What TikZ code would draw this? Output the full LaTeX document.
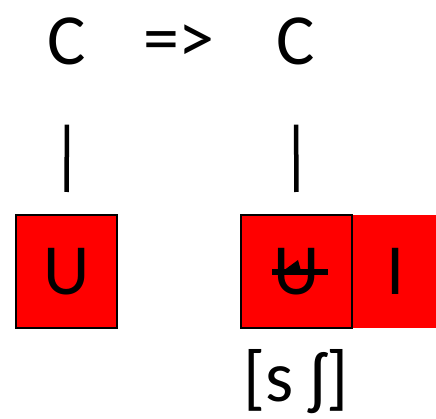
\documentclass[tikz,border=0pt]{standalone}
\usepackage{fontspec}
\setmainfont{Carlito}
\usetikzlibrary{arrows.meta, positioning}

\tikzset{
  big/.style={font=\fontsize{72}{80}\selectfont, inner sep=0pt},
  seg/.style={big, fill=red, minimum height=113pt},
  bar/.style={line width=4.5pt},
}

\begin{document}
\begin{tikzpicture}[x=1pt, y=-1pt]
        \useasboundingbox (0,0) rectangle (436,419);
        % top row
        \node[big, anchor=base] (c1) at (67,65) {C};
        \node[big, anchor=base] (rule) at (179,63) {=>};
        \node[big, anchor=base] (c2) at (296,65) {C};
        % segments
        \node[seg, draw, line width=2pt, minimum width=101pt] (u1) at (66.5,271.5) {U};
        \node[seg, draw, line width=2pt, minimum width=111pt] (u2) at (296.5,271.5) {U};
        \node[seg, minimum width=84pt, anchor=west] (i2) at (u2.east) {I};
        % association lines
        \draw[bar, shorten <=59pt, shorten >=22pt] (c1) -- (u1);
        \draw[bar, shorten <=59pt, shorten >=22pt] (c2) -- (u2);
        % delinking arrow over the vowel
        \draw[line width=5.5pt] (328,272) -- (272,272);
        \fill (283,271) -- (298,260) -- (301,271) -- cycle;
        % output
        \node[big, anchor=base] (out) at (296,401) {[s ʃ]};
    \end{tikzpicture}
\end{document}
